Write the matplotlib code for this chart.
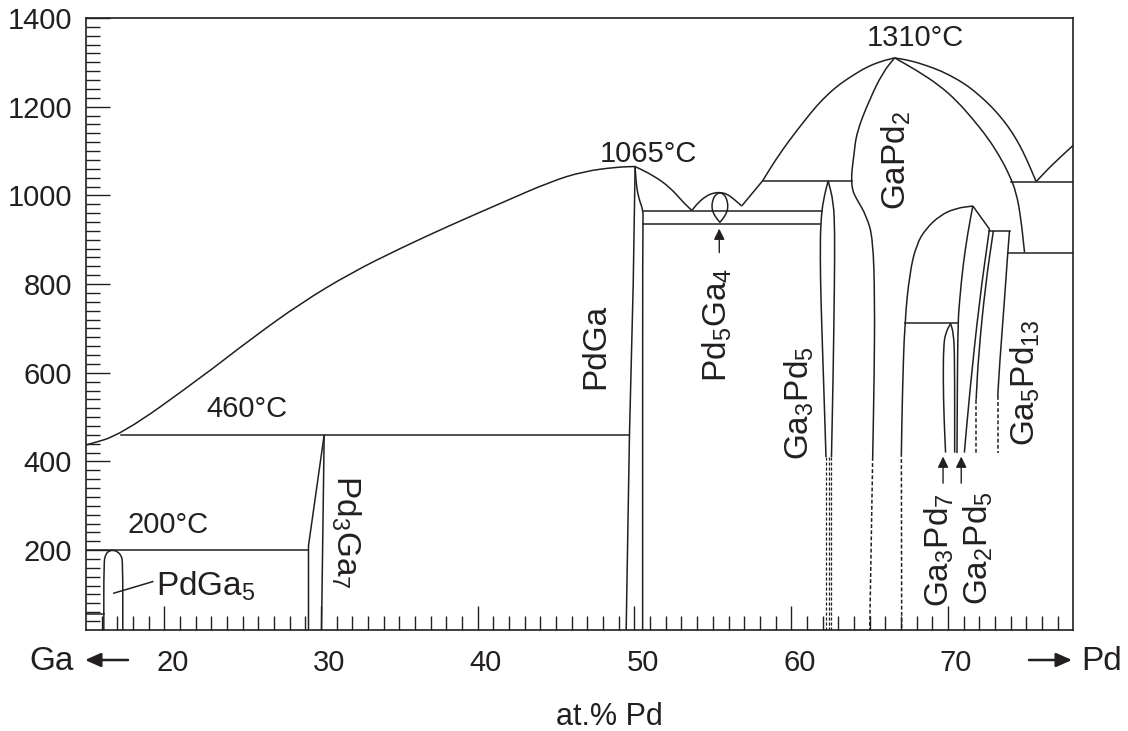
import numpy as np
import matplotlib
matplotlib.use('Agg')
import matplotlib.pyplot as plt
import matplotlib.transforms as mtransforms
from matplotlib.path import Path
from matplotlib.patches import PathPatch

# Ga-Pd phase diagram, Ga-rich half (at.% Pd vs. temperature in degC)

plt.rcParams['font.family'] = ['Liberation Sans', 'DejaVu Sans']
plt.rcParams['font.size'] = 21
ink = '#231f20'
lw = 1.1

# --- boundaries, x in at.% Pd, t in degC ---
liq_ga_x = [15.0, 17.24, 22.34, 25.52, 28.71, 31.9, 35.08, 38.27, 41.45, 44.64, 46.74, 48.9, 50.04]
liq_ga_t = [437, 460, 589, 676, 757, 825, 881, 933, 982, 1031, 1054, 1064, 1065]

liq_pdga_x = [50.04, 51.2, 52.27, 53.12, 53.66]
liq_pdga_t = [1065, 1045, 1018, 984, 966]

liq_pd5ga4_x = [53.66, 54.1, 54.6, 55.0, 55.45, 55.9, 56.3, 56.84]
liq_pd5ga4_t = [966, 985, 999, 1005, 1007, 1003, 993, 976]

lens_pd5ga4_x = [55.45, 55.7, 55.9, 55.97, 55.9, 55.75, 55.45, 55.15, 55.0, 54.93, 55.0, 55.2, 55.45]
lens_pd5ga4_t = [939, 950, 962, 976, 990, 1001, 1007, 1001, 990, 976, 962, 950, 939]

liq_gapd2_l_x = [58.18, 59.0, 59.92, 60.8, 61.62, 62.4, 63.1, 64.0, 64.8, 65.7, 66.6]
liq_gapd2_l_t = [1033, 1080, 1126, 1166, 1202, 1230, 1251, 1272, 1289, 1302, 1310]
liq_kink_x = [56.84, 58.18]
liq_kink_t = [976, 1033]

liq_gapd2_r_x = [66.6, 67.6, 68.62, 69.6, 70.53, 71.3, 72.02, 72.7, 73.29, 73.85, 74.36, 74.8, 75.2, 75.63]
liq_gapd2_r_t = [1310, 1304, 1293, 1280, 1263, 1246, 1225, 1203, 1180, 1155, 1127, 1098, 1067, 1031]

liq_pd_x = [75.63, 76.4, 77.2, 78.0]
liq_pd_t = [1031, 1060, 1087, 1113]

sol_gapd2_r_x = [66.6, 68.0, 69.46, 70.6, 71.59, 72.5, 73.29, 73.9, 74.36, 74.65, 74.89]
sol_gapd2_r_t = [1310, 1282, 1248, 1212, 1172, 1132, 1089, 1048, 1007, 950, 871]

sol_gapd2_l_x = [66.6, 65.86, 65.01, 64.17, 64.0, 63.87, 63.85, 63.92, 64.17, 64.8, 65.22, 65.33, 65.3, 65.2]
sol_gapd2_l_t = [1310, 1278, 1217, 1142, 1090, 1055, 1033, 1010, 992, 954, 903, 765, 600, 410]
dash_gapd2_l_x = [65.2, 65.01]
dash_gapd2_l_t = [410, 20]

dome_l_x = [71.59, 70.5, 69.5, 68.6, 68.0, 67.56, 67.24, 67.1, 67.03]
dome_l_t = [976, 971, 955, 925, 890, 826, 713, 560, 419]
dash_dome_l_x = [67.03, 67.05]
dash_dome_l_t = [419, 20]

dome_peak_x = [71.59, 72.65]
dome_peak_t = [976, 924]

ga2pd5_l_x = [71.59, 71.27, 70.96, 70.75, 70.64, 70.6, 70.58]
ga2pd5_l_t = [976, 916, 841, 765, 713, 560, 419]

ga2pd5_r_x = [72.65, 72.0, 71.4, 71.05]
ga2pd5_r_t = [924, 760, 560, 420]

ga5pd13_l_x = [72.9, 72.4, 71.95, 71.8]
ga5pd13_l_t = [920, 800, 640, 539]
dash_ga5pd13_l_x = [71.8, 71.8]
dash_ga5pd13_l_t = [539, 419]

ga5pd13_r_x = [73.93, 73.82, 73.6, 73.3, 73.18]
ga5pd13_r_t = [920, 871, 760, 620, 547]
dash_ga5pd13_r_x = [73.18, 73.18]
dash_ga5pd13_r_t = [547, 419]

lens_ga3pd7_l_x = [70.17, 69.85, 69.72, 69.7, 69.75, 69.85]
lens_ga3pd7_l_t = [711, 690, 660, 580, 500, 420]
lens_ga3pd7_r_x = [70.17, 70.35, 70.43, 70.43]
lens_ga3pd7_r_t = [711, 690, 640, 420]

ga3pd5_l_x = [62.36, 62.05, 61.88, 61.85, 61.9, 62.05, 62.22]
ga3pd5_l_t = [1033, 990, 940, 860, 760, 600, 410]
ga3pd5_r_x = [62.36, 62.7, 62.78, 62.76, 62.68, 62.57]
ga3pd5_r_t = [1033, 985, 920, 800, 600, 410]
dash_ga3pd5_x = [62.2, 62.4, 62.55]

pdga_l_x = [49.47, 49.68, 49.92, 50.04]
pdga_l_t = [20, 460, 800, 1065]
pdga_r_x = [50.52, 50.52, 50.57, 50.25, 50.1, 50.04]
pdga_r_t = [20, 940, 965, 995, 1030, 1065]

pd3ga7_l_x = [29.2, 29.2, 30.2]
pd3ga7_l_t = [20, 210, 460]
pd3ga7_r_x = [30.03, 30.2]
pd3ga7_r_t = [20, 460]

pdga5_x = [16.14, 16.14, 16.25, 16.45, 16.72, 17.0, 17.25, 17.35, 17.35]
pdga5_t = [20, 173, 190, 198, 200, 197, 188, 173, 20]

# horizontal invariant lines: (x_start, x_end, t)
isotherms = [
    (15.0, 16.14, 55),
    (15.0, 29.2, 200),
    (17.24, 49.68, 460),
    (50.55, 61.94, 965),
    (50.55, 61.83, 936),
    (58.18, 63.85, 1033),
    (67.24, 70.64, 713),
    (72.65, 73.93, 920),
    (74.0, 78.0, 1031),
    (73.82, 78.0, 871),
]


def curve(ax, xs, ts, smooth=True):
    # quadratic bezier through segment midpoints, so traced corners come out round
    pts = np.column_stack([xs, ts]).astype(float)
    if len(pts) < 3 or not smooth:
        verts = pts
        codes = [Path.MOVETO] + [Path.LINETO] * (len(pts) - 1)
    else:
        mids = (pts[:-1] + pts[1:]) / 2
        verts = [pts[0], mids[0]]
        codes = [Path.MOVETO, Path.LINETO]
        for i in range(1, len(pts) - 1):
            verts += [pts[i], mids[i]]
            codes += [Path.CURVE3, Path.CURVE3]
        verts.append(pts[-1])
        codes.append(Path.LINETO)
    ax.add_patch(PathPatch(Path(verts, codes), fill=False, edgecolor=ink, lw=lw,
                           capstyle='butt', joinstyle='round'))


fig = plt.figure(figsize=(11.28, 7.31), dpi=100)
ax = fig.add_axes([0.0762, 0.1382, 0.8753, 0.8372])

solid = [
    (liq_ga_x, liq_ga_t), (liq_pdga_x, liq_pdga_t), (liq_pd5ga4_x, liq_pd5ga4_t),
    (lens_pd5ga4_x, lens_pd5ga4_t), (liq_kink_x, liq_kink_t), (liq_gapd2_l_x, liq_gapd2_l_t),
    (liq_gapd2_r_x, liq_gapd2_r_t), (liq_pd_x, liq_pd_t),
    (sol_gapd2_r_x, sol_gapd2_r_t), (sol_gapd2_l_x, sol_gapd2_l_t),
    (dome_l_x, dome_l_t), (dome_peak_x, dome_peak_t),
    (ga2pd5_l_x, ga2pd5_l_t), (ga2pd5_r_x, ga2pd5_r_t),
    (ga5pd13_l_x, ga5pd13_l_t), (ga5pd13_r_x, ga5pd13_r_t),
    (lens_ga3pd7_l_x, lens_ga3pd7_l_t), (lens_ga3pd7_r_x, lens_ga3pd7_r_t),
    (ga3pd5_l_x, ga3pd5_l_t), (ga3pd5_r_x, ga3pd5_r_t),
    (pdga_r_x, pdga_r_t), (pd3ga7_r_x, pd3ga7_r_t), (pdga5_x, pdga5_t),
]
for xs, ts in solid:
    curve(ax, xs, ts)
# these two are drawn as straight pieces with a sharp bend
curve(ax, pdga_l_x, pdga_l_t, smooth=False)
curve(ax, pd3ga7_l_x, pd3ga7_l_t, smooth=False)

dash = (0, (2.5, 1.5))
dashed = [
    (dash_gapd2_l_x, dash_gapd2_l_t), (dash_dome_l_x, dash_dome_l_t),
    (dash_ga5pd13_l_x, dash_ga5pd13_l_t), (dash_ga5pd13_r_x, dash_ga5pd13_r_t),
]
for xs, ts in dashed:
    ax.plot(xs, ts, color=ink, lw=lw, ls=dash)
for xd in dash_ga3pd5_x:
    ax.plot([xd, xd], [410, 20], color=ink, lw=0.9, ls=dash)

for x0, x1, t in isotherms:
    ax.plot([x0, x1], [t, t], color=ink, lw=lw)

ax.set_xlim(15, 78)
ax.set_ylim(20, 1400)
for s in ax.spines.values():
    s.set_color(ink)
    s.set_linewidth(1.2)

ax.set_xticks(np.arange(20, 71, 10))
ax.set_xticks(np.arange(16, 78, 1), minor=True)
ax.set_yticks(np.arange(200, 1401, 200))
ax.set_yticks(np.arange(40, 1400, 20), minor=True)
ax.tick_params(which='both', direction='in', color=ink, width=1.0, labelcolor=ink)
ax.tick_params(which='major', length=17, labelsize=21)
ax.tick_params(which='minor', length=10)
ax.tick_params(axis='x', pad=14)
ax.tick_params(axis='y', pad=10)
shift = mtransforms.ScaledTranslation(8 / 100, 0, fig.dpi_scale_trans)
for lab in ax.get_xticklabels():
    lab.set_transform(lab.get_transform() + shift)

# temperature and phase labels
ax.text(50.9, 1093, '1065°C', ha='center', va='center', color=ink)
ax.text(67.9, 1355, '1310°C', ha='center', va='center', color=ink)
ax.text(25.27, 519, '460°C', ha='center', va='center', color=ink)
ax.text(20.24, 257, '200°C', ha='center', va='center', color=ink)
ax.text(19.48, 99, r'PdGa$_\mathregular{5}$', ha='left', va='baseline', color=ink, fontsize=24)
ax.plot([16.78, 19.26], [103, 129], color=ink, lw=lw)

rot_labels = [
    (47.5, 659, 'PdGa', 90),
    (31.57, 241, r'Pd$_\mathregular{3}$Ga$_\mathregular{7}$', 270),
    (55.26, 707, r'Pd$_\mathregular{5}$Ga$_\mathregular{4}$', 90),
    (60.52, 532, r'Ga$_\mathregular{3}$Pd$_\mathregular{5}$', 90),
    (66.7, 1080, r'GaPd$_\mathregular{2}$', 90),
    (74.92, 578, r'Ga$_\mathregular{5}$Pd$_\mathregular{13}$', 90),
    (69.47, 200, r'Ga$_\mathregular{3}$Pd$_\mathregular{7}$', 90),
    (71.92, 205, r'Ga$_\mathregular{2}$Pd$_\mathregular{5}$', 90),
]
for x, t, s, r in rot_labels:
    ax.text(x, t, s, rotation=r, ha='center', va='center', color=ink, fontsize=24)

arrow_kw = dict(arrowstyle='-|>,head_length=0.65,head_width=0.32', color=ink, lw=1.0,
                shrinkA=0, shrinkB=0, mutation_scale=10)
ax.annotate('', xy=(55.41, 925), xytext=(55.41, 871), arrowprops=arrow_kw)
ax.annotate('', xy=(69.69, 411), xytext=(69.69, 351), arrowprops=arrow_kw)
ax.annotate('', xy=(70.85, 411), xytext=(70.85, 351), arrowprops=arrow_kw)

# element markers under the axis
ft = fig.transFigure
W, H = 1128, 731
big_arrow = dict(arrowstyle='-|>,head_length=0.95,head_width=0.42', color=ink, lw=1.8,
                 shrinkA=0, shrinkB=0, mutation_scale=10)
fig.text(74 / W, 1 - 661 / H, 'Ga', ha='right', va='center', color=ink, fontsize=24)
ax.annotate('', xy=(85 / W, 1 - 660 / H), xytext=(128 / W, 1 - 660 / H), xycoords=ft,
            textcoords=ft, arrowprops=big_arrow, annotation_clip=False)
ax.annotate('', xy=(1072 / W, 1 - 660 / H), xytext=(1029 / W, 1 - 660 / H), xycoords=ft,
            textcoords=ft, arrowprops=big_arrow, annotation_clip=False)
fig.text(1081 / W, 1 - 661 / H, 'Pd', ha='left', va='center', color=ink, fontsize=24)
fig.text(609 / W, 1 - 717 / H, 'at.% Pd', ha='center', va='center', color=ink, fontsize=22)

fig.savefig('out.png', dpi=100, facecolor='white')
